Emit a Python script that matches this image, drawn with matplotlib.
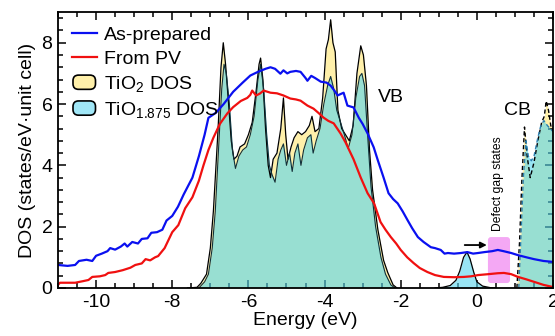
#!/usr/bin/env python3
"""
DOS of TiO2 / TiO1.875 compared with the measured spectra
(as-prepared and from PV).
"""
import matplotlib
matplotlib.use("Agg")
import matplotlib.pyplot as plt
from matplotlib.patches import Patch, FancyBboxPatch
from matplotlib.lines import Line2D
from matplotlib.legend_handler import HandlerPatch
from matplotlib.ticker import MultipleLocator

plt.rcParams['font.family'] = ['Liberation Sans', 'DejaVu Sans']
plt.rcParams['mathtext.fontset'] = 'custom'
plt.rcParams['mathtext.rm'] = 'Liberation Sans'
plt.rcParams['mathtext.it'] = 'Liberation Sans:italic'
plt.rcParams['axes.unicode_minus'] = False

# measured curves
e_asprep = [-11.0, -10.75, -10.55, -10.45, -10.25, -10.1, -10.0, -9.85, -9.7, -9.63,
            -9.5, -9.35, -9.25, -9.18, -9.05, -8.9, -8.8, -8.65, -8.55, -8.4,
            -8.26, -8.15, -8.0, -7.85, -7.7, -7.47, -7.3, -7.15, -7.05, -6.85,
            -6.65, -6.4, -6.15, -5.95, -5.75, -5.55, -5.42, -5.3, -5.16, -5.08,
            -4.98, -4.9, -4.75, -4.63, -4.5, -4.45, -4.35, -4.25, -4.1, -3.95,
            -3.84, -3.72, -3.66, -3.5, -3.4, -3.24, -3.1, -3.0, -2.87, -2.71,
            -2.6, -2.45, -2.32, -2.2, -2.08, -1.95, -1.82, -1.7, -1.55, -1.4,
            -1.21, -1.1, -0.95, -0.85, -0.76, -0.6, -0.42, -0.25, -0.1, 0.03,
            0.2, 0.4, 0.55, 0.7, 0.9, 1.08, 1.3, 1.5, 1.75, 2.0]
dos_asprep = [0.75, 0.72, 0.75, 0.88, 0.92, 0.88, 1.05, 1.12, 1.2, 1.3,
              1.25, 1.35, 1.45, 1.35, 1.5, 1.45, 1.6, 1.62, 1.8, 1.82,
              1.9, 2.2, 2.35, 2.65, 3.05, 3.6, 4.3, 5.0, 5.55, 5.72,
              6.0, 6.4, 6.7, 6.93, 7.05, 7.15, 7.2, 7.15, 6.99, 7.1,
              7.0, 7.05, 7.08, 7.05, 6.85, 6.76, 6.92, 6.85, 6.73, 6.7,
              6.6, 6.4, 6.28, 6.37, 5.95, 5.89, 5.55, 5.35, 5.04, 4.59,
              4.16, 3.6, 3.09, 2.9, 2.76, 2.5, 2.21, 1.95, 1.66, 1.5,
              1.33, 1.3, 1.24, 1.12, 1.14, 1.12, 1.14, 1.17, 1.12, 1.14,
              1.17, 1.2, 1.24, 1.2, 1.14, 1.07, 1.0, 0.94, 0.88, 0.85]

e_pv = [-11.0, -10.95, -10.55, -10.35, -10.2, -10.1, -9.9, -9.76, -9.68, -9.5,
        -9.3, -9.1, -8.97, -8.8, -8.7, -8.58, -8.45, -8.37, -8.2, -8.0,
        -7.84, -7.66, -7.47, -7.3, -7.18, -7.05, -6.92, -6.75, -6.55, -6.4,
        -6.2, -6.03, -5.95, -5.9, -5.8, -5.7, -5.6, -5.42, -5.25, -5.08,
        -4.9, -4.75, -4.63, -4.45, -4.29, -4.15, -4.03, -3.9, -3.76, -3.58,
        -3.45, -3.24, -3.05, -2.87, -2.7, -2.53, -2.4, -2.26, -2.12, -2.0,
        -1.83, -1.66, -1.5, -1.3, -1.1, -0.87, -0.6, -0.34, -0.15, 0.03,
        0.3, 0.55, 0.71, 0.9, 1.08, 1.3, 1.5, 1.75, 2.0]
dos_pv = [0.1, 0.17, 0.17, 0.22, 0.26, 0.36, 0.38, 0.42, 0.49, 0.52,
          0.58, 0.66, 0.75, 0.8, 0.94, 0.9, 1.0, 1.04, 1.3, 1.82,
          2.05, 2.6, 2.96, 3.5, 4.0, 4.5, 4.9, 5.35, 5.7, 5.9,
          6.1, 6.2, 6.3, 6.44, 6.28, 6.34, 6.44, 6.37, 6.35, 6.28,
          6.18, 6.15, 6.11, 5.95, 5.85, 5.7, 5.56, 5.45, 5.37, 5.04,
          4.75, 4.2, 3.6, 3.09, 2.76, 2.15, 1.9, 1.66, 1.45, 1.24,
          1.0, 0.81, 0.65, 0.52, 0.42, 0.36, 0.35, 0.36, 0.38, 0.42,
          0.45, 0.48, 0.49, 0.45, 0.36, 0.28, 0.2, 0.1, 0.03]

# calculated DOS, valence band
e_tio2_vb = [-7.6, -7.35, -7.25, -7.1, -7.0, -6.92, -6.8, -6.72, -6.66, -6.6,
             -6.52, -6.45, -6.38, -6.3, -6.22, -6.1, -6.0, -5.9, -5.8, -5.72,
             -5.68, -5.62, -5.55, -5.48, -5.42, -5.35, -5.25, -5.15, -5.08, -5.02,
             -4.96, -4.88, -4.8, -4.7, -4.6, -4.5, -4.4, -4.33, -4.25, -4.15,
             -4.05, -3.96, -3.9, -3.84, -3.78, -3.72, -3.65, -3.55, -3.45, -3.35,
             -3.25, -3.15, -3.05, -2.98, -2.9, -2.82, -2.74, -2.6, -2.45, -2.34,
             -2.2, -2.1]
dos_tio2_vb = [0.0, 0.02, 0.15, 0.45, 1.3, 2.5, 5.1, 7.2, 8.0, 7.3,
               6.0, 4.8, 4.2, 4.3, 4.6, 4.7, 5.0, 5.4, 6.4, 7.3,
               7.5, 6.8, 5.2, 4.0, 3.6, 4.2, 4.4, 5.2, 6.2, 5.0,
               4.2, 4.6, 4.9, 5.1, 5.0, 5.1, 5.3, 5.6, 5.1, 5.2,
               6.2, 7.8, 8.1, 8.75, 8.0, 7.7, 5.8, 5.2, 5.0, 4.8,
               5.3, 7.0, 7.9, 7.6, 6.6, 4.5, 3.2, 1.9, 0.9, 0.5,
               0.1, 0.0]

e_sub_vb = [-7.3, -7.15, -7.05, -6.95, -6.87, -6.76, -6.7, -6.64, -6.58, -6.5,
            -6.42, -6.34, -6.25, -6.15, -6.05, -5.95, -5.85, -5.75, -5.68, -5.6,
            -5.52, -5.45, -5.38, -5.3, -5.22, -5.15, -5.08, -5.0, -4.92, -4.85,
            -4.78, -4.7, -4.62, -4.55, -4.45, -4.36, -4.3, -4.22, -4.12, -4.02,
            -3.92, -3.84, -3.76, -3.68, -3.58, -3.48, -3.38, -3.28, -3.18, -3.08,
            -3.02, -2.95, -2.86, -2.78, -2.66, -2.52, -2.4, -2.26, -2.15]
dos_sub_vb = [0.0, 0.2, 0.45, 1.3, 2.5, 5.1, 6.5, 7.3, 7.0, 6.0,
              4.5, 3.9, 4.3, 4.5, 4.6, 5.0, 5.6, 6.8, 7.3, 6.5,
              5.0, 4.0, 3.7, 3.45, 4.2, 4.5, 4.7, 4.0, 4.4, 3.8,
              4.4, 4.7, 4.0, 4.5, 4.9, 5.0, 4.4, 4.8, 5.2, 6.0,
              6.6, 6.9, 6.5, 5.8, 5.4, 5.0, 4.55, 5.0, 6.2, 6.9,
              7.0, 6.6, 4.8, 3.3, 2.0, 1.0, 0.45, 0.1, 0.0]

# defect state of TiO1.875 in the gap
e_sub_gap = [-1.1, -0.9, -0.7, -0.55, -0.45, -0.35, -0.26, -0.18, -0.08, 0.0,
             0.15, 0.35, 0.5]
dos_sub_gap = [0.0, 0.02, 0.08, 0.25, 0.55, 1.0, 1.17, 0.95, 0.5, 0.2,
               0.06, 0.01, 0.0]

# conduction band
e_tio2_cb = [1.05, 1.12, 1.18, 1.25, 1.32, 1.4, 1.5, 1.6, 1.7, 1.77,
             1.82, 1.88, 1.94, 2.0]
dos_tio2_cb = [0.0, 1.5, 3.5, 5.25, 4.3, 3.6, 4.1, 4.8, 5.4, 5.6,
               6.1, 5.8, 5.3, 5.1]
e_sub_cb = [1.1, 1.16, 1.22, 1.29, 1.35, 1.43, 1.5, 1.6, 1.68, 1.76,
            1.85, 2.0]
dos_sub_cb = [0.0, 1.8, 3.6, 4.8, 4.3, 4.15, 4.3, 4.9, 5.3, 5.46,
              5.3, 5.1]

yellow = "#fff0aa"
cyan = "#53d5ee"


def rounded_patch(legend, orig_handle, xdescent, ydescent, width, height, fontsize):
    return FancyBboxPatch((-xdescent + 1, -ydescent), width - 2, height,
                          boxstyle="round,pad=0,rounding_size=4")
# end def: rounded_patch


def main():
    fig = plt.figure(figsize=(5.55, 3.36), dpi=100)
    ax = fig.add_axes([0.1045, 0.143, 0.892, 0.821])

    # TiO2 (yellow) under TiO1.875 (transparent cyan)
    ax.fill_between(e_tio2_vb, dos_tio2_vb, color=yellow, lw=0, zorder=1)
    ax.fill_between(e_tio2_cb, dos_tio2_cb, color=yellow, lw=0, zorder=1)
    ax.fill_between(e_sub_vb, dos_sub_vb, color=cyan, alpha=0.6, lw=0, zorder=2)
    ax.fill_between(e_sub_gap, dos_sub_gap, color=cyan, alpha=0.6, lw=0, zorder=2)
    ax.fill_between(e_sub_cb, dos_sub_cb, color=cyan, alpha=0.6, lw=0, zorder=2)

    ax.plot(e_tio2_vb, dos_tio2_vb, color="black", lw=0.9, zorder=3)
    ax.plot(e_sub_vb, dos_sub_vb, color="#10303a", lw=0.8, zorder=3)
    ax.plot(e_sub_gap, dos_sub_gap, color="black", lw=0.9, zorder=3)
    ax.plot(e_tio2_cb, dos_tio2_cb, color="black", lw=1.0, ls=(0, (3, 2)), zorder=3)
    ax.plot(e_sub_cb, dos_sub_cb, color="#2a7fb0", lw=1.0, ls=(0, (3, 2)), zorder=3)

    # defect gap states marker
    box = FancyBboxPatch((0.29, 0.16), 0.58, 1.5,
                         boxstyle="round,pad=0,rounding_size=0.08",
                         mutation_aspect=1 / 0.8,
                         facecolor="#f4a8f4", edgecolor="none", zorder=3.5)
    ax.add_patch(box)
    ax.annotate("", xy=(0.26, 1.4), xytext=(-0.32, 1.4),
                arrowprops=dict(arrowstyle="-|>", color="black", lw=1.3,
                                mutation_scale=9, shrinkA=0, shrinkB=0),
                zorder=5)
    ax.text(0.56, 1.85, "Defect gap states", rotation=90, fontsize=8.7,
            ha="center", va="bottom", zorder=5)
    ax.text(-2.6, 6.2, "VB", fontsize=14, ha="left", va="center")
    ax.text(0.7, 5.8, "CB", fontsize=14, ha="left", va="center")

    ax.plot(e_asprep, dos_asprep, color="#0a10f0", lw=1.6, zorder=4)
    ax.plot(e_pv, dos_pv, color="#f01010", lw=1.6, zorder=4)

    ax.set_xlim(-11, 2)
    ax.set_ylim(0, 9)
    ax.xaxis.set_major_locator(MultipleLocator(2))
    ax.xaxis.set_minor_locator(MultipleLocator(0.5))
    ax.yaxis.set_major_locator(MultipleLocator(2))
    ax.yaxis.set_minor_locator(MultipleLocator(0.4))
    ax.tick_params(which="both", direction="in", top=True, right=True,
                   width=1.1, labelsize=14, pad=4)
    ax.tick_params(which="major", length=6)
    ax.tick_params(which="minor", length=3.5)
    for s in ax.spines.values():
        s.set_linewidth(1.3)
        s.set_zorder(6)

    ax.set_xlabel("Energy (eV)", fontsize=14, labelpad=1)
    ax.set_ylabel("DOS (states/eV\u00b7unit cell)", fontsize=14, labelpad=4)

    handles = [Line2D([], [], color="#0a10f0", lw=1.6),
               Line2D([], [], color="#f01010", lw=1.6),
               Patch(facecolor=yellow, edgecolor="black", lw=1.2),
               Patch(facecolor="#a0e6f6", edgecolor="black", lw=1.2)]
    labels = ["As-prepared", "From PV", "TiO$_2$ DOS", "TiO$_{1.875}$ DOS"]
    ax.legend(handles, labels, loc="upper left", bbox_to_anchor=(0.0, 0.997),
              frameon=False, fontsize=14, handlelength=1.3, handleheight=0.75,
              handletextpad=0.35, labelspacing=0.3, borderaxespad=0.3,
              handler_map={Patch: HandlerPatch(patch_func=rounded_patch)})

    fig.savefig("out.png", dpi=100)
# end def: main


if __name__ == "__main__":
    main()
# end if
